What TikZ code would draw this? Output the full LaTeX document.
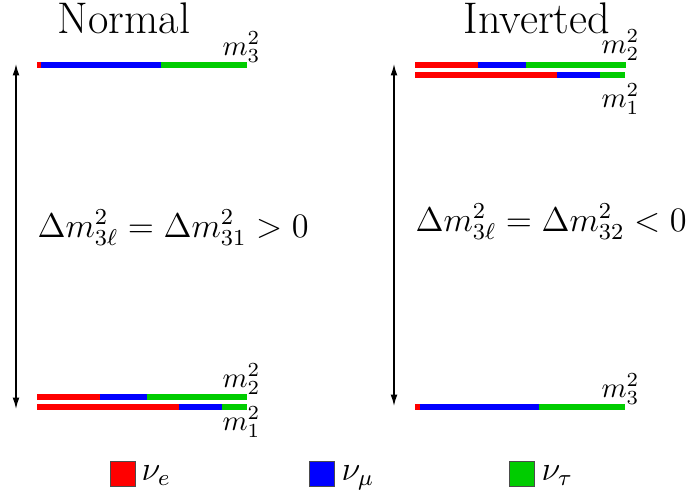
\documentclass[tikz,border=0pt]{standalone}
\usepackage{amsmath, amssymb}
\usepackage{tikz}
\usetikzlibrary{arrows.meta,positioning}
\usepackage{xcolor}
\definecolor{nuered}{RGB}{255,0,0}
\definecolor{numublue}{RGB}{0,0,255}
\definecolor{nutaugreen}{RGB}{0,204,0}

\begin{document}
\begin{tikzpicture}[
        x=0.35pt, y=-0.35pt,
        title/.style={inner sep=0pt, anchor=base, font=\fontsize{15.5}{18}\selectfont},
        mass/.style={inner sep=0pt, anchor=base west},
        split/.style={inner sep=0pt, anchor=base west, font=\large},
        legbox/.style={draw=black!70, line width=0.5pt, minimum size=8.6pt, inner sep=0pt},
        legtext/.style={inner sep=0pt, anchor=base west, font=\large},
        arrow/.style={{Latex[length=4pt,width=2.4pt]}-{Latex[length=4pt,width=2.4pt]}, line width=0.5pt}
    ]
        \useasboundingbox (0,0) rectangle (697,495);

        % Titel
        \node[title] (tn) at (124,33) {Normal};
        \node[title] (ti) at (537,33) {Inverted};

        % Normal: m3 oben
        \fill[nuered] (37,62) rectangle (41,68);
        \fill[numublue] (41,62) rectangle (161,68);
        \fill[nutaugreen] (161,62) rectangle (247,68);
        \node[mass] (nm3) at (222,55) {$m_3^2$};

        % Normal: m2 und m1 unten
        \fill[nuered] (37,394) rectangle (100,400);
        \fill[numublue] (100,394) rectangle (147,400);
        \fill[nutaugreen] (147,394) rectangle (247,400);
        \node[mass] (nm2) at (222,387) {$m_2^2$};
        \fill[nuered] (37,404) rectangle (179,410);
        \fill[numublue] (179,404) rectangle (222,410);
        \fill[nutaugreen] (222,404) rectangle (247,410);
        \node[mass] (nm1) at (222,430) {$m_1^2$};

        % Inverted: m2 und m1 oben
        \fill[nuered] (415,62) rectangle (478,68);
        \fill[numublue] (478,62) rectangle (526,68);
        \fill[nutaugreen] (526,62) rectangle (626,68);
        \node[mass] (im2) at (601,53) {$m_2^2$};
        \fill[nuered] (415,72) rectangle (557,78);
        \fill[numublue] (557,72) rectangle (600,78);
        \fill[nutaugreen] (600,72) rectangle (625,78);
        \node[mass] (im1) at (601,107) {$m_1^2$};

        % Inverted: m3 unten
        \fill[nuered] (415,404) rectangle (420,410);
        \fill[numublue] (420,404) rectangle (539,410);
        \fill[nutaugreen] (539,404) rectangle (625,410);
        \node[mass] (im3) at (601,397) {$m_3^2$};

        % Pfeile
        \coordinate (ntop) at (16,64);
        \coordinate (nbot) at (16,409);
        \coordinate (itop) at (394,64);
        \coordinate (ibot) at (394,406);
        \draw[arrow] (ntop) -- (nbot);
        \draw[arrow] (itop) -- (ibot);

        % Aufspaltung
        \node[split] (dn) at (37,237) {$\Delta m_{3\ell}^2 = \Delta m_{31}^2 > 0$};
        \node[split] (di) at (415,231) {$\Delta m_{3\ell}^2 = \Delta m_{32}^2 < 0$};

        % Legende
        \node[legbox, fill=nuered] (le) at (123,474) {};
        \node[legbox, fill=numublue] (lm) at (322,474) {};
        \node[legbox, fill=nutaugreen] (lt) at (522,474) {};
        \node[legtext] (ne) at (141,480) {$\nu_e$};
        \node[legtext] (nm) at (341,480) {$\nu_\mu$};
        \node[legtext] (nt) at (541,480) {$\nu_\tau$};
    \end{tikzpicture}
\end{document}
